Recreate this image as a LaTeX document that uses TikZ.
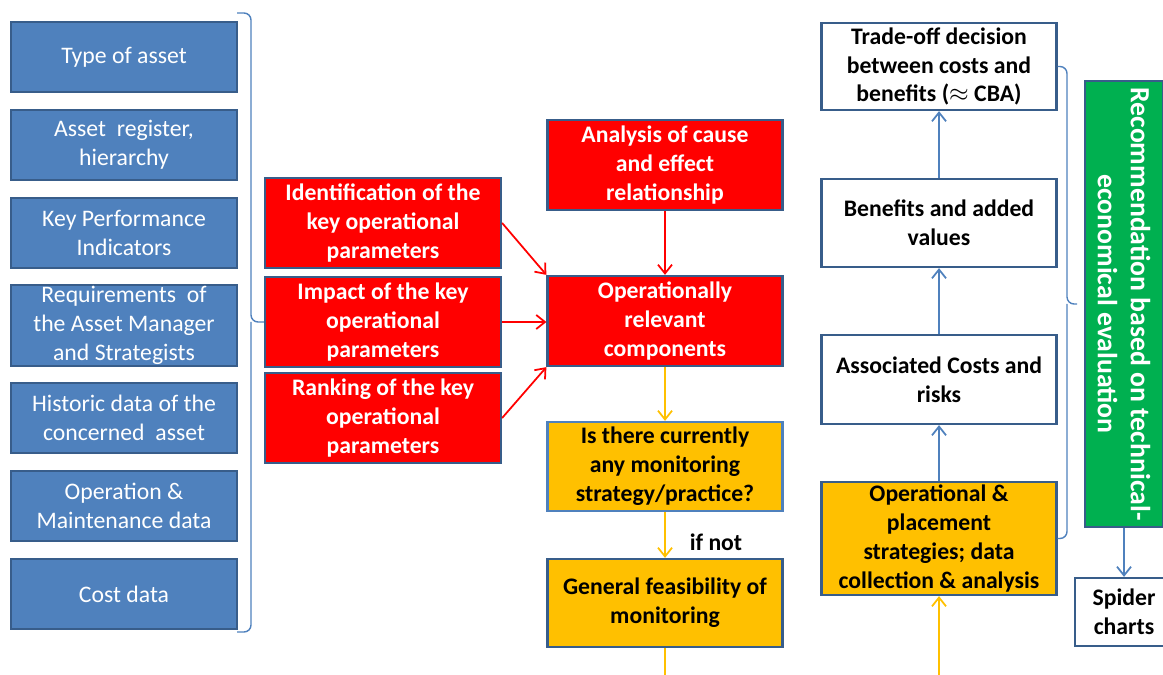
\documentclass[tikz,border=0pt]{standalone}
\usepackage{fontspec}
\setmainfont{Carlito}
\usepackage{xcolor}
\usepackage{tikz}
\usetikzlibrary{arrows.meta}

\definecolor{boxblue}{RGB}{79,129,189}
\definecolor{edgeblue}{RGB}{56,93,138}
\definecolor{boxred}{RGB}{255,0,0}
\definecolor{boxorange}{RGB}{255,192,0}
\definecolor{boxgreen}{RGB}{0,176,80}

\tikzset{
  box/.style={draw=edgeblue, line width=1.3pt, align=center, inner sep=2pt,
    font=\fontsize{13.5}{16.4}\selectfont},
  inbox/.style={box, fill=boxblue, text=white, minimum width=4.52cm, minimum height=1.4cm},
  redbox/.style={box, fill=boxred, text=white, font=\fontsize{13.5}{16.4}\selectfont\bfseries,
    minimum width=4.7cm, minimum height=1.8cm},
  orangebox/.style={box, fill=boxorange, text=black, font=\fontsize{13.5}{16.4}\selectfont\bfseries,
    minimum width=4.7cm, minimum height=1.78cm},
  whitebox/.style={box, fill=white, text=black, font=\fontsize{13.5}{16.4}\selectfont\bfseries,
    minimum width=4.7cm, minimum height=1.76cm},
  greenbox/.style={box, fill=boxgreen, text=white, font=\fontsize{15.8}{18.8}\selectfont\bfseries,
    minimum width=8.92cm, minimum height=1.56cm, inner sep=0pt},
  barb/.style={-{Straight Barb[length=5pt,width=8pt]}},
  redarrow/.style={barb, draw=boxred, line width=1pt},
  orangearrow/.style={barb, draw=boxorange, line width=1pt},
  orangeline/.style={draw=boxorange, line width=1pt},
  bluearrow/.style={barb, draw=boxblue, line width=1pt},
  brace/.style={draw=boxblue, line width=0.8pt, rounded corners=4pt}
}

\begin{document}
\begin{tikzpicture}[x=0.02cm, y=-0.02cm]
\useasboundingbox (0,0) rectangle (1163,675);

% inputs
\node[inbox] (type) at (124,57) {Type of asset};
\node[inbox] (register) at (124,145) {Asset\ \ register,\\hierarchy};
\node[inbox] (kpi) at (124,233) {Key Performance\\Indicators};
\node[inbox, minimum height=1.62cm, inner ysep=0pt] (req) at (124,325.5) {Requirements\ \ of\\the Asset Manager\\and Strategists};
\node[inbox] (hist) at (124,418) {Historic data of the\\concerned\ \ asset};
\node[inbox] (om) at (124,506) {Operation \&\\Maintenance data};
\node[inbox] (cost) at (124,594) {Cost data};

% key parameters
\node[redbox, minimum width=4.72cm] (ident) at (383,223) {Identification of the\\key operational\\parameters};
\node[redbox, minimum width=4.72cm] (impact) at (383,322) {Impact of the key\\operational\\parameters};
\node[redbox, minimum width=4.72cm] (rank) at (383,418) {Ranking of the key\\operational\\parameters};

% middle column
\node[redbox] (cause) at (665,165) {Analysis of cause\\and effect\\relationship};
\node[redbox] (relevant) at (665,321) {Operationally\\relevant\\components};
\node[orangebox, draw=boxblue] (current) at (665,466.5) {Is there currently\\any monitoring\\strategy/practice?};
\node[orangebox, minimum height=1.76cm] (feasible) at (665,603) {General feasibility of\\monitoring};
\node[font=\fontsize{13.5}{16.4}\selectfont\bfseries] (ifnot) at (716,542) {if not};

% right column
\node[whitebox, minimum height=1.74cm] (tradeoff) at (939,66.5) {Trade-off decision\\between costs and\\benefits ($\approx$ CBA)};
\node[whitebox] (benefits) at (939,223) {Benefits and added\\values};
\node[whitebox, minimum height=1.78cm] (costs) at (939,379.5) {Associated Costs and\\risks};
\node[orangebox, minimum height=2.26cm, inner ysep=0pt] (placement) at (939,538.5) {Operational \&\\placement\\strategies; data\\collection \& analysis};

\node[greenbox, rotate=-90] (recommend) at (1124,304) {Recommendation based on technical-\\economical evaluation};
\node[whitebox, minimum width=1.96cm, minimum height=1.36cm] (spider) at (1124,612) {Spider\\charts};

\coordinate (feasout) at (665,675);
\coordinate (placein) at (939,675);
\coordinate (lefttip) at (251,322);
\coordinate (righttip) at (1067,304);
\coordinate (rightend) at (1077,304);

% connectors
\draw[redarrow] (ident.east) -- (relevant.north west);
\draw[redarrow] (impact.east) -- (impact.east -| relevant.west);
\draw[redarrow] (rank.east) -- (relevant.south west);
\draw[redarrow] (cause) -- (relevant);
\draw[orangearrow] (relevant) -- (current);
\draw[orangearrow] (current) -- (feasible);
\draw[orangeline] (feasible) -- (feasout);
\draw[orangearrow] (placein) -- (placement);
\draw[bluearrow] (placement) -- (costs);
\draw[bluearrow] (costs) -- (benefits);
\draw[bluearrow] (benefits) -- (tradeoff);
\draw[bluearrow] (recommend) -- (spider);

% braces
\draw[brace] (237,13) -| (lefttip) -- (impact.west) (lefttip) |- (237,632);
\draw[brace] (tradeoff.east) -| (righttip) -- (rightend) (righttip) |- (placement.east);
\end{tikzpicture}
\end{document}
